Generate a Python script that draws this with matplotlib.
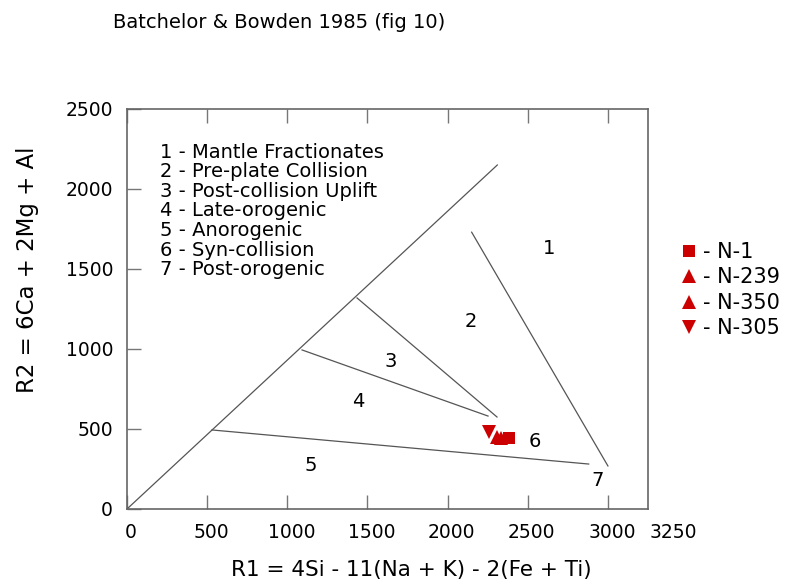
import matplotlib
matplotlib.use("Agg")
import matplotlib.pyplot as plt
from matplotlib.transforms import ScaledTranslation

plt.rcParams['font.family'] = ['DejaVu Sans']

# field boundaries (R1, R2)
boundaries = [
    ([0, 2310], [0, 2150]),
    ([2150, 3000], [1730, 269]),
    ([530, 2880], [494, 281]),
    ([1435, 2308], [1319, 575]),
    ([1092, 2252], [994, 581]),
]

zone_ids = ['1', '2', '3', '4', '5', '6', '7']
zone_x = [2632, 2146, 1647, 1441, 1148, 2545, 2938]
zone_y = [1625, 1169, 919, 669, 269, 419, 175]

zone_names = ['Mantle Fractionates', 'Pre-plate Collision', 'Post-collision Uplift',
              'Late-orogenic', 'Anorogenic', 'Syn-collision', 'Post-orogenic']

samples = ['N-1', 'N-239', 'N-350', 'N-305']
r1 = [2386, 2308, 2333, 2261]
r2 = [444, 450, 444, 481]
markers = ['s', '^', '^', 'v']

xticks = [0, 500, 1000, 1500, 2000, 2500, 3000, 3250]
yticks = [0, 500, 1000, 1500, 2000, 2500]

fig = plt.figure(figsize=(7.89, 5.86), dpi=100)
ax = fig.add_axes([127/789, 1 - 509/586, 521/789, 400/586])

for bx, by in boundaries:
    ax.plot(bx, by, color='#555555', lw=0.9)

for z, x, y in zip(zone_ids, zone_x, zone_y):
    ax.text(x, y, z, fontsize=14, ha='center', va='center', color='black')

key = '\n'.join('%s - %s' % (z, n) for z, n in zip(zone_ids, zone_names))
ax.text(206, 2290, key, fontsize=14, ha='left', va='top', linespacing=1.04)

for s, x, y, m in zip(samples, r1, r2, markers):
    ax.plot(x, y, m, color='#cc0000', ms=9 if m == 's' else 10, label='- ' + s,
            markeredgewidth=0)

ax.set_xlim(0, 3250)
ax.set_ylim(0, 2500)
ax.set_xticks(xticks)
ax.set_yticks(yticks)
ax.set_xticklabels([str(t) for t in xticks])
ax.tick_params(direction='in', length=10, width=1, color='#777777',
               top=True, right=False, labelsize=13.5, pad=10)
ax.xaxis.get_major_ticks()[-1].tick1line.set_visible(False)
ax.xaxis.get_major_ticks()[-1].tick2line.set_visible(False)
for lab in ax.get_xticklabels():
    lab.set_transform(lab.get_transform() + ScaledTranslation(4/100, 0, fig.dpi_scale_trans))
last = ax.get_xticklabels()[-1]
last.set_transform(last.get_transform() + ScaledTranslation(21/100, 0, fig.dpi_scale_trans))
for sp in ax.spines.values():
    sp.set_color('#666666')
    sp.set_linewidth(1.2)

fig.text(113/789, 1 - 22/586, 'Batchelor & Bowden 1985 (fig 10)', fontsize=14,
         ha='left', va='center')
fig.text(411/789, 1 - 570/586, 'R1 = 4Si - 11(Na + K) - 2(Fe + Ti)', fontsize=15.5,
         ha='center', va='center')
fig.text(28/789, 1 - 270/586, 'R2 = 6Ca + 2Mg + Al', fontsize=16.5, rotation=90,
         ha='center', va='center')

fig.legend(loc='upper left', bbox_to_anchor=(676/789, 1 - 242/586), frameon=False,
           fontsize=15, handletextpad=0.1, labelspacing=0.26, handlelength=1.2,
           borderaxespad=0, borderpad=0)

fig.savefig('out.png', dpi=100)
